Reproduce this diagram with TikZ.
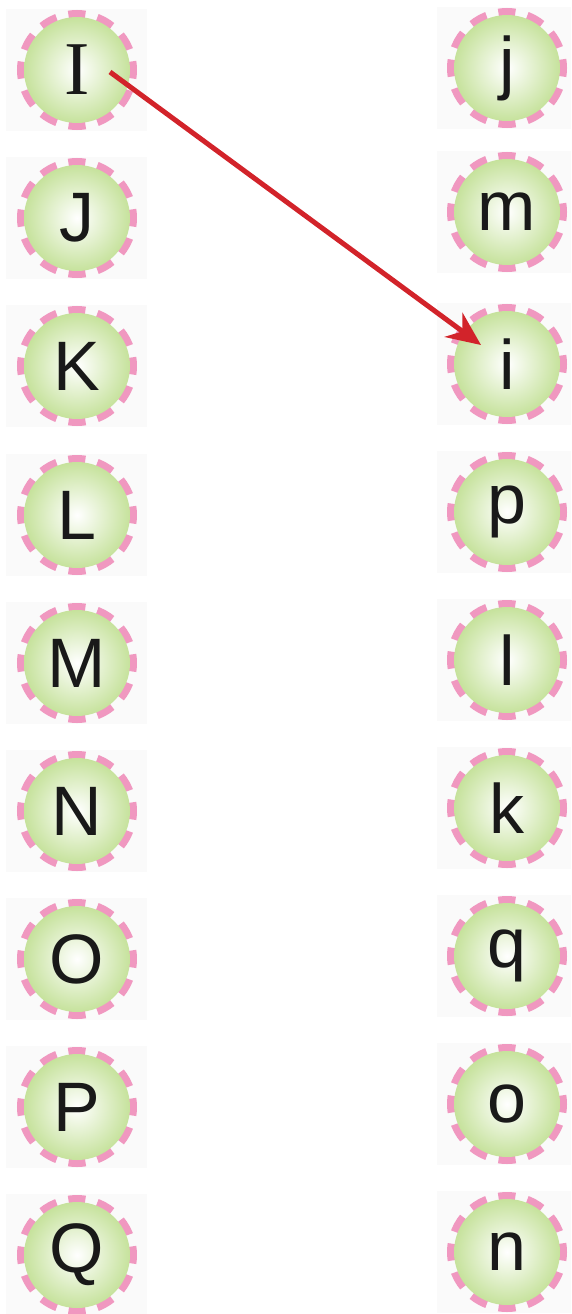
\documentclass[tikz,border=0pt]{standalone}
\usepackage{fontspec}
\setmainfont{Liberation Sans}
\newfontfamily\serifI{Liberation Serif}
\usetikzlibrary{arrows.meta}
\definecolor{ringpink}{RGB}{240,152,192}
\definecolor{ballgreen}{RGB}{198,226,156}
\definecolor{arrowred}{RGB}{210,35,42}
\definecolor{boxbg}{RGB}{250,250,250}
\tikzset{
  ball/.style={circle,minimum size=106pt,inner sep=0pt,
    inner color=white,outer color=ballgreen,
    font=\fontsize{70}{70}\selectfont,text=black!90},
  ring/.style={draw=ringpink,line width=8pt,dash pattern=on 17pt off 12.3pt,dash phase=8.5pt},
  bgbox/.style={fill=boxbg,draw=none},
  link/.style={draw=arrowred,line width=5pt,-{Stealth[length=34pt,width=30pt]}}
}
\begin{document}
\begin{tikzpicture}[x=1pt,y=-1pt]
\useasboundingbox (0,0) rectangle (571,1314);
\foreach \n/\t/\y in {I/{\serifI\fontsize{76}{76}\selectfont I}/70,J/J/218,K/K/366,L/L/515,M/M/663,N/N/811,O/O/959,P/P/1107,Q/Q/1255}{
  \fill[boxbg] (6,\y-61) rectangle (147,\y+61);
  \draw[ring] (77,\y) circle[radius=56];
  \node[ball] (\n) at (77,\y) {\t};
}
\foreach \n/\t/\y in {j/j/68,m/m/212,i/i/364,p/p/512,l/l/660,k/k/808,q/q/956,o/o/1104,n/n/1252}{
  \fill[boxbg] (437,\y-61) rectangle (571,\y+61);
  \draw[ring] (507,\y) circle[radius=56];
  \node[ball] (r\n) at (507,\y) {\t};
}
\coordinate (s) at (110,72);
\coordinate (e) at (481,345);
\draw[link] (s) -- (e);
\end{tikzpicture}
\end{document}
